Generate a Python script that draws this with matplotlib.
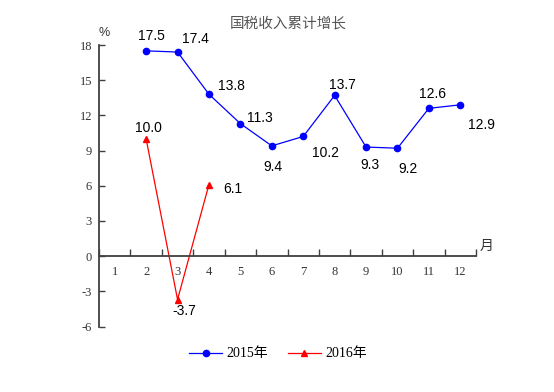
import matplotlib
matplotlib.use("Agg")
import matplotlib.pyplot as plt

# data
months = list(range(1, 13))
x_2015 = [2, 3, 4, 5, 6, 7, 8, 9, 10, 11, 12]
y_2015 = [17.5, 17.4, 13.8, 11.3, 9.4, 10.2, 13.7, 9.3, 9.2, 12.6, 12.9]
x_2016 = [2, 3, 4]
y_2016 = [10.0, -3.7, 6.1]
yticks = [-6, -3, 0, 3, 6, 9, 12, 15, 18]

# label offsets in pixels (dx right, dy up)
off_2015 = [(5, 15), (18, 13), (22, 8), (20, 6), (1, -21), (22, -17),
            (8, 10), (4, -18), (11, -21), (4, 14), (21, -20)]
off_2016 = [(2, 11), (7, -11), (24, -4)]

serif = ["Liberation Serif", "Noto Sans CJK SC"]
cjk = ["Noto Sans CJK SC", "DejaVu Sans"]
axis_col = "#404040"

fig = plt.figure(figsize=(5.54, 3.92), dpi=100)
ax = fig.add_axes([99 / 554, 1 - 326.5 / 392, 377 / 554, 281.5 / 392])

ax.plot(x_2015, y_2015, color="#0000ff", lw=0.9, marker="o", ms=4.5,
        label="2015年")
ax.plot(x_2016, y_2016, color="#ff0000", lw=0.9, marker="^", ms=5,
        label="2016年")

for x, y, (dx, dy) in zip(x_2015, y_2015, off_2015):
    ax.annotate(f"{y:.1f}", (x, y), xytext=(dx, dy), textcoords="offset pixels",
                ha="center", va="center", fontsize=10,
                family="Liberation Sans")
for x, y, (dx, dy) in zip(x_2016, y_2016, off_2016):
    ax.annotate(f"{y:.1f}", (x, y), xytext=(dx, dy), textcoords="offset pixels",
                ha="center", va="center", fontsize=10,
                family="Liberation Sans")

ax.set_xlim(0.5, 12.5)
ax.set_ylim(-6, 18)

for s in ["top", "right"]:
    ax.spines[s].set_visible(False)
ax.spines["bottom"].set_position(("data", 0))
for s in ["left", "bottom"]:
    ax.spines[s].set_color(axis_col)
    ax.spines[s].set_linewidth(1.3)

ax.set_yticks(yticks)
ax.set_yticklabels([str(v) for v in yticks], family=serif, fontsize=9,
                   color="#333333")
ax.tick_params(axis="y", direction="in", length=4, width=1, color=axis_col,
               pad=5)

ax.set_xticks(months)
ax.set_xticklabels([str(m) for m in months], family=serif, fontsize=9,
                   color="#333333")
ax.set_xticks([m + 0.5 for m in range(0, 13)], minor=True)
ax.tick_params(axis="x", which="major", length=0, pad=7)
ax.tick_params(axis="x", which="minor", direction="in", length=5, width=1,
               color=axis_col)

fig.text(288 / 554, 1 - 23 / 392, "国税收入累计增长", ha="center", va="center",
         fontsize=10.5, family=cjk, color="#555555")
fig.text(104 / 554, 1 - 33 / 392, "%", ha="center", va="center",
         fontsize=9, family="Liberation Sans", color="#333333")
fig.text(487 / 554, 1 - 246 / 392, "月", ha="center", va="center",
         fontsize=10, family=cjk, color="#333333")

fig.legend(loc="center", bbox_to_anchor=(278 / 554, 1 - 354 / 392), ncol=2,
           frameon=False, handlelength=2.4, handletextpad=0.3,
           columnspacing=1.4, prop={"family": serif, "size": 10})

fig.savefig("out.png", dpi=100)
